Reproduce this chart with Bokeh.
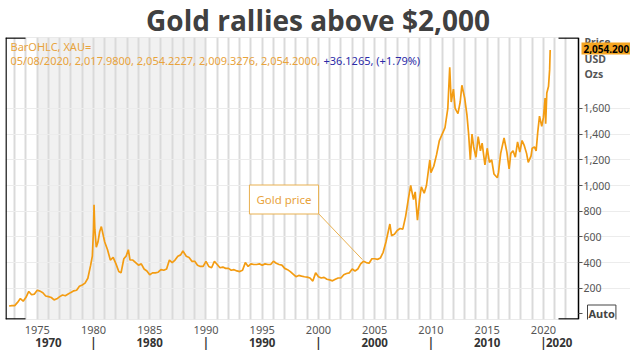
from bokeh.plotting import figure
from bokeh.models import (Range1d, LinearAxis, FixedTicker, Label, BoxAnnotation, Title,
                          Arrow, Grid, ColumnDataSource)
from bokeh.embed import file_html
from bokeh.resources import INLINE

# ---- data ----
years = [1972.50, 1972.75, 1973.00, 1973.25, 1973.50, 1973.75, 1974.00, 1974.25, 1974.50, 1974.75,
         1975.00, 1975.25, 1975.50, 1975.75, 1976.00, 1976.25, 1976.50, 1976.75, 1977.00, 1977.25,
         1977.50, 1977.75, 1978.00, 1978.25, 1978.50, 1978.75, 1979.00, 1979.25, 1979.50, 1979.75,
         1979.90, 1980.00, 1980.05, 1980.12, 1980.25, 1980.40, 1980.55, 1980.70, 1980.85, 1981.00,
         1981.25, 1981.50, 1981.75, 1982.00, 1982.25, 1982.45, 1982.70, 1982.90, 1983.10, 1983.25,
         1983.50, 1983.75, 1984.00, 1984.25, 1984.50, 1984.75, 1985.00, 1985.25, 1985.50, 1985.75,
         1986.00, 1986.25, 1986.50, 1986.75, 1987.00, 1987.25, 1987.50, 1987.75, 1987.95, 1988.25,
         1988.50, 1988.75, 1989.00, 1989.25, 1989.50, 1989.75, 1990.00, 1990.25, 1990.50, 1990.75,
         1991.00, 1991.25, 1991.50, 1991.75, 1992.00, 1992.25, 1992.50, 1992.75, 1993.00, 1993.25,
         1993.50, 1993.75, 1994.00, 1994.25, 1994.50, 1994.75, 1995.00, 1995.25, 1995.50, 1995.75,
         1996.00, 1996.25, 1996.50, 1996.75, 1997.00, 1997.25, 1997.50, 1997.75, 1998.00, 1998.25,
         1998.50, 1998.75, 1999.00, 1999.25, 1999.50, 1999.75, 2000.00, 2000.25, 2000.50, 2000.75,
         2001.00, 2001.25, 2001.50, 2001.75, 2002.00, 2002.25, 2002.50, 2002.75, 2003.00, 2003.25,
         2003.50, 2003.75, 2004.00, 2004.25, 2004.50, 2004.75, 2005.00, 2005.25, 2005.50, 2005.75,
         2006.00, 2006.35, 2006.50, 2006.75, 2007.00, 2007.25, 2007.50, 2007.75, 2008.00, 2008.20,
         2008.45, 2008.60, 2008.80, 2009.00, 2009.15, 2009.40, 2009.60, 2009.90, 2010.00, 2010.25,
         2010.50, 2010.75, 2011.00, 2011.25, 2011.50, 2011.67, 2011.80, 2012.00, 2012.15, 2012.40,
         2012.60, 2012.75, 2013.00, 2013.20, 2013.35, 2013.50, 2013.65, 2013.80, 2014.00, 2014.20,
         2014.40, 2014.55, 2014.80, 2015.00, 2015.20, 2015.40, 2015.60, 2015.90, 2016.00, 2016.20,
         2016.50, 2016.75, 2016.95, 2017.10, 2017.30, 2017.50, 2017.70, 2017.90, 2018.10, 2018.30,
         2018.50, 2018.65, 2018.90, 2019.00, 2019.20, 2019.35, 2019.50, 2019.65, 2019.85, 2020.00,
         2020.15, 2020.20, 2020.30, 2020.45, 2020.55, 2020.60]
price = [62, 65, 65, 90, 120, 100, 130, 175, 150, 155,
         185, 178, 165, 140, 135, 128, 110, 118, 135, 148,
         142, 155, 168, 180, 185, 215, 226, 240, 278, 380,
         450, 650, 850, 660, 520, 560, 640, 680, 620, 560,
         500, 420, 440, 390, 330, 320, 430, 450, 500, 420,
         420, 400, 380, 390, 350, 335, 305, 320, 320, 325,
         345, 340, 350, 420, 400, 420, 450, 460, 490, 450,
         440, 410, 410, 380, 370, 370, 410, 370, 360, 410,
         385, 360, 365, 355, 355, 340, 345, 335, 330, 340,
         400, 370, 390, 385, 385, 390, 380, 390, 385, 385,
         410, 395, 385, 380, 355, 345, 330, 310, 290, 300,
         295, 290, 287, 280, 256, 320, 290, 280, 285, 270,
         265, 258, 270, 280, 280, 305, 315, 320, 350, 335,
         350, 390, 410, 400, 395, 430, 430, 425, 435, 480,
         560, 700, 610, 620, 650, 665, 660, 760, 900, 1000,
         890, 950, 730, 900, 990, 940, 1000, 1200, 1100, 1150,
         1240, 1350, 1400, 1450, 1600, 1920, 1650, 1750, 1600, 1560,
         1650, 1780, 1680, 1550, 1400, 1200, 1400, 1300, 1220, 1380,
         1270, 1330, 1160, 1290, 1180, 1200, 1090, 1060, 1100, 1250,
         1370, 1260, 1130, 1250, 1270, 1220, 1340, 1260, 1350, 1310,
         1250, 1180, 1230, 1290, 1300, 1270, 1420, 1540, 1460, 1530,
         1680, 1480, 1720, 1770, 1900, 2054]

year_ticks = [1975, 1980, 1985, 1990, 1995, 2000, 2005, 2010, 2015, 2020]
decade_pos = [1976, 1980, 1985, 1990, 1995, 2000, 2005, 2010, 2015, 2020, 2021.4]
decade_labels = ["1970", "|", "1980", "|", "1990", "|", "2000", "|", "2010", "|", "2020"]
price_ticks = [0, 200, 400, 600, 800, 1000, 1200, 1400, 1600]
price_labels = ["", "200", "400", "600", "800", "1,000", "1,200", "1,400", "1,600"]

ORANGE = "#F39C12"
TXT_OR = "#E8A33C"
GRAY = "#555555"

X_START = 1972.18
X_END = 2027.74      # frame runs to the right edge of the canvas
AXIS_X = 2023.12     # where the price axis line sits
LABEL_X = 2026.23    # anchor for price tick labels

p = figure(width=630, height=352, output_backend="svg", toolbar_location=None,
           x_range=Range1d(X_START, X_END), y_range=Range1d(-43, 2152),
           x_axis_type=None, y_axis_type=None,
           min_border_left=5, min_border_right=0, min_border_top=37, min_border_bottom=33)
p.outline_line_color = None
p.background_fill_color = "white"
p.border_fill_color = "white"

p.add_layout(Title(text="Gold rallies above $2,000", align="center", offset=10, standoff=-3,
                   text_font="Open Sans", text_font_style="bold", text_font_size="28px",
                   text_color="#404040"), "above")

p.add_layout(BoxAnnotation(left=1975, right=1990, fill_color="#f1f1f1", fill_alpha=1,
                           line_color=None, level="underlay"))
p.add_layout(Grid(dimension=0, ticker=FixedTicker(ticks=list(range(1973, 2023))),
                  grid_line_color="#dadada", grid_line_width=2))
p.add_layout(Grid(dimension=1, ticker=FixedTicker(ticks=price_ticks[1:]),
                  grid_line_color="#ececec", grid_line_width=1,
                  bounds=(X_START, AXIS_X)))

src = ColumnDataSource(dict(x=years, y=price))
p.line("x", "y", source=src, line_color=ORANGE, line_width=1.7)

# price axis line + tick marks
tax = LinearAxis(ticker=FixedTicker(ticks=price_ticks), fixed_location=AXIS_X,
                 major_label_overrides={t: "" for t in price_ticks})
tax.axis_line_color = "black"
tax.axis_line_width = 1.5
tax.major_tick_line_color = GRAY
tax.major_tick_out = 0
tax.major_tick_in = -4
tax.minor_tick_line_color = None
tax.major_label_standoff = 0
p.add_layout(tax, "right")

# price tick labels
lax = LinearAxis(ticker=FixedTicker(ticks=price_ticks), fixed_location=LABEL_X,
                 major_label_overrides={t: s for t, s in zip(price_ticks, price_labels)})
lax.axis_line_color = None
lax.major_tick_line_color = None
lax.minor_tick_line_color = None
lax.major_tick_out = 0
lax.major_tick_in = 0
lax.major_label_standoff = -30
lax.major_label_text_font = "Noto Sans"
lax.major_label_text_font_size = "10.5px"
lax.major_label_text_color = GRAY
p.add_layout(lax, "right")

# bottom year axis
xax = LinearAxis(ticker=FixedTicker(ticks=year_ticks))
xax.axis_line_color = None
xax.major_tick_line_color = None
xax.minor_tick_line_color = None
xax.major_tick_out = 0
xax.major_tick_in = 0
xax.major_label_standoff = 6
xax.major_label_text_font = "Noto Sans"
xax.major_label_text_font_size = "11px"
xax.major_label_text_color = GRAY
p.add_layout(xax, "below")

# bottom decade axis
dax = LinearAxis(ticker=FixedTicker(ticks=decade_pos),
                 major_label_overrides={k: v for k, v in zip(decade_pos, decade_labels)})
dax.axis_line_color = None
dax.major_tick_line_color = None
dax.minor_tick_line_color = None
dax.major_tick_out = 0
dax.major_tick_in = 0
dax.major_label_standoff = -2
dax.major_label_text_font = "Noto Sans"
dax.major_label_text_font_style = "bold"
dax.major_label_text_font_size = "11.5px"
dax.major_label_text_color = "#333333"
p.add_layout(dax, "below")

# frame: light top/bottom rules, black left line and corner brackets
W, H = 573, 282
for (x0, y0, x1, y1) in [(0, H, W, H), (0, 0, W, 0)]:
    p.add_layout(Arrow(end=None, x_start=x0, y_start=y0, x_end=x1, y_end=y1,
                       start_units="screen", end_units="screen", line_color="#d6d6d6", line_width=1))
for (x0, y0, x1, y1) in [(0.5, 0, 0.5, H), (0, H - 0.5, 20, H - 0.5), (0, 0.5, 20, 0.5),
                         (W - 20, H - 0.5, W, H - 0.5), (W - 20, 0.5, W, 0.5)]:
    p.add_layout(Arrow(end=None, x_start=x0, y_start=y0, x_end=x1, y_end=y1,
                       start_units="screen", end_units="screen", line_color="black", line_width=1.5))

def lab(x, y, text, **kw):
    opts = dict(x=x, y=y, x_units="screen", y_units="screen", text=text,
                text_font="Noto Sans", text_baseline="middle")
    opts.update(kw)
    p.add_layout(Label(**opts))

lab(5, 273, "BarOHLC, XAU=", text_font_size="11px", text_color=TXT_OR)
lab(5, 259, "05/08/2020, 2,017.9800, 2,054.2227, 2,009.3276, 2,054.2000,",
    text_font_size="11px", text_color=TXT_OR)
lab(318, 259, "+36.1265, (+1.79%)", text_font_size="11px", text_color="#2B2BA8")

lab(579, 278, "Price", text_font_size="10.5px", text_font_style="bold", text_color=GRAY)
lab(576, 271, "2,054.200", text_font_size="10px", text_font_style="bold", text_color="black",
    background_fill_color="#F5A623", padding=2)
lab(579, 261, "USD", text_font_size="10.5px", text_font_style="bold", text_color=GRAY)
lab(579, 246, "Ozs", text_font_size="10.5px", text_font_style="bold", text_color=GRAY)
lab(582, 6, "Auto", text_font_size="11px", text_font_style="bold", text_color="#444444",
    border_line_color="#444444", background_fill_color="white", padding=1)

# callout
p.add_layout(Arrow(end=None, x_start=2000.0, y_start=782, x_end=2003.9, y_end=424,
                   line_color="#E8B050", line_width=1))
lab(278.5, 120, "Gold price", text_align="center", text_font_size="11.5px", text_color=TXT_OR,
    border_line_color="#E8B050", background_fill_color="white", padding=7)

open("out.html", "w").write(file_html(p, INLINE))
